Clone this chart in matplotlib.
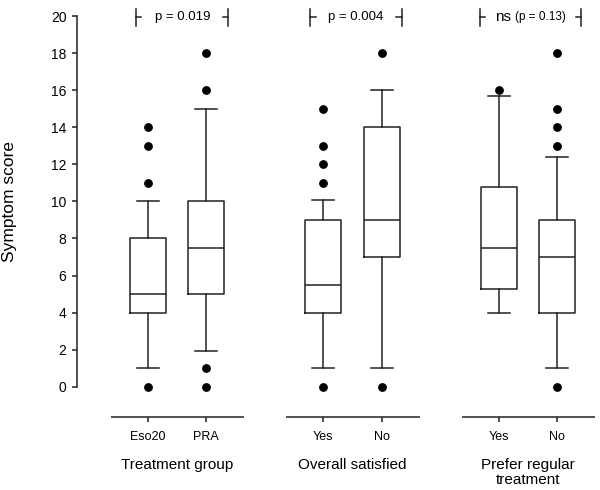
import matplotlib as mpl
mpl.use('Agg')
import matplotlib.pyplot as plt

plt.rcParams['font.family'] = ['Liberation Sans', 'DejaVu Sans']

# box plot summary values
labels = ["Eso20", "PRA", "Yes", "No", "Yes", "No"]
positions = [0, 1, 3, 4, 6, 7]
medians = [5, 7.5, 5.5, 9, 7.5, 7]
q1 = [4, 5, 4, 7, 5.25, 4]
q3 = [8, 10, 9, 14, 10.75, 9]
whislo = [1, 1.9, 1, 1, 4, 1]
whishi = [10, 15, 10.1, 16, 15.7, 12.4]
fliers = [[0, 11, 13, 14], [0, 1, 16, 18], [0, 11, 12, 13, 15], [0, 18], [16], [0, 13, 14, 15, 18]]

panel_starts = [0, 3, 6]
panel_titles = ["Treatment group", "Overall satisfied", "Prefer regular\ntreatment"]
p_texts = ["p = 0.019", "p = 0.004", None]
bracket_left = [-0.2, 2.78, 5.68]
bracket_right = [1.38, 4.34, 7.41]
bracket_text_x = [0.6, 3.56, None]

line_col = '#222222'

fig = plt.figure(figsize=(6, 4.9), dpi=100)
ax = fig.add_axes([77 / 600, 73.3 / 490, 523 / 600, (416.7 - 16.1) / 490])

stats = []
for i in range(len(labels)):
    stats.append(dict(med=medians[i], q1=q1[i], q3=q3[i], whislo=whislo[i],
                      whishi=whishi[i], fliers=fliers[i], label=labels[i]))

lp = dict(color=line_col, linewidth=1.1)
ax.bxp(stats, positions=positions, widths=0.61, capwidths=0.37,
       boxprops=lp, whiskerprops=lp, capprops=lp,
       medianprops=dict(color=line_col, linewidth=1.1),
       flierprops=dict(marker='o', markerfacecolor='black', markeredgecolor='black',
                       markersize=5.3, linestyle='none'))

ax.set_xlim(-1.209, 7.732)
ax.set_ylim(-1.62, 20)
ax.set_yticks(range(0, 21, 2))
ax.tick_params(axis='y', length=3.6, width=1.1, color=line_col, labelsize=10, pad=4)
ax.tick_params(axis='x', length=3.6, width=1.1, color=line_col, labelsize=9, pad=6.5)
ax.set_xticks(positions)
ax.set_xticklabels(labels)

for s in ['top', 'right', 'bottom']:
    ax.spines[s].set_visible(False)
ax.spines['left'].set_bounds(0, 20)
ax.spines['left'].set_color(line_col)
ax.spines['left'].set_linewidth(1.1)

ax.set_ylabel("Symptom score", fontsize=12.5)
ax.yaxis.set_label_coords(-0.115, 0.537)

# separate x axis line under each panel
for k, p0 in enumerate(panel_starts):
    ax.plot([p0 - 0.63, p0 + 1.65], [-1.62, -1.62], color=line_col, lw=1.1,
            clip_on=False, solid_capstyle='butt')
    ax.text(p0 + 0.5, -3.85, panel_titles[k], ha='center', va='top', fontsize=11,
            linespacing=1.12)

    # significance bracket
    yb = 19.95
    xl, xr = bracket_left[k], bracket_right[k]
    ax.plot([xl, xl], [yb - 0.46, yb + 0.46], color=line_col, lw=1.1, clip_on=False)
    ax.plot([xl, xl + 0.09], [yb, yb], color=line_col, lw=1.1, clip_on=False)
    ax.plot([xr, xr], [yb - 0.46, yb + 0.46], color=line_col, lw=1.1, clip_on=False)
    ax.plot([xr - 0.09, xr], [yb, yb], color=line_col, lw=1.1, clip_on=False)
    if p_texts[k] is not None:
        ax.text(bracket_text_x[k], yb, p_texts[k], ha='center', va='center', fontsize=9.5)

ax.text(5.94, 19.95, "ns", ha='left', va='center', fontsize=11)
ax.text(6.28, 19.95, "(p = 0.13)", ha='left', va='center', fontsize=8.5)

fig.savefig("out.png", dpi=100)
